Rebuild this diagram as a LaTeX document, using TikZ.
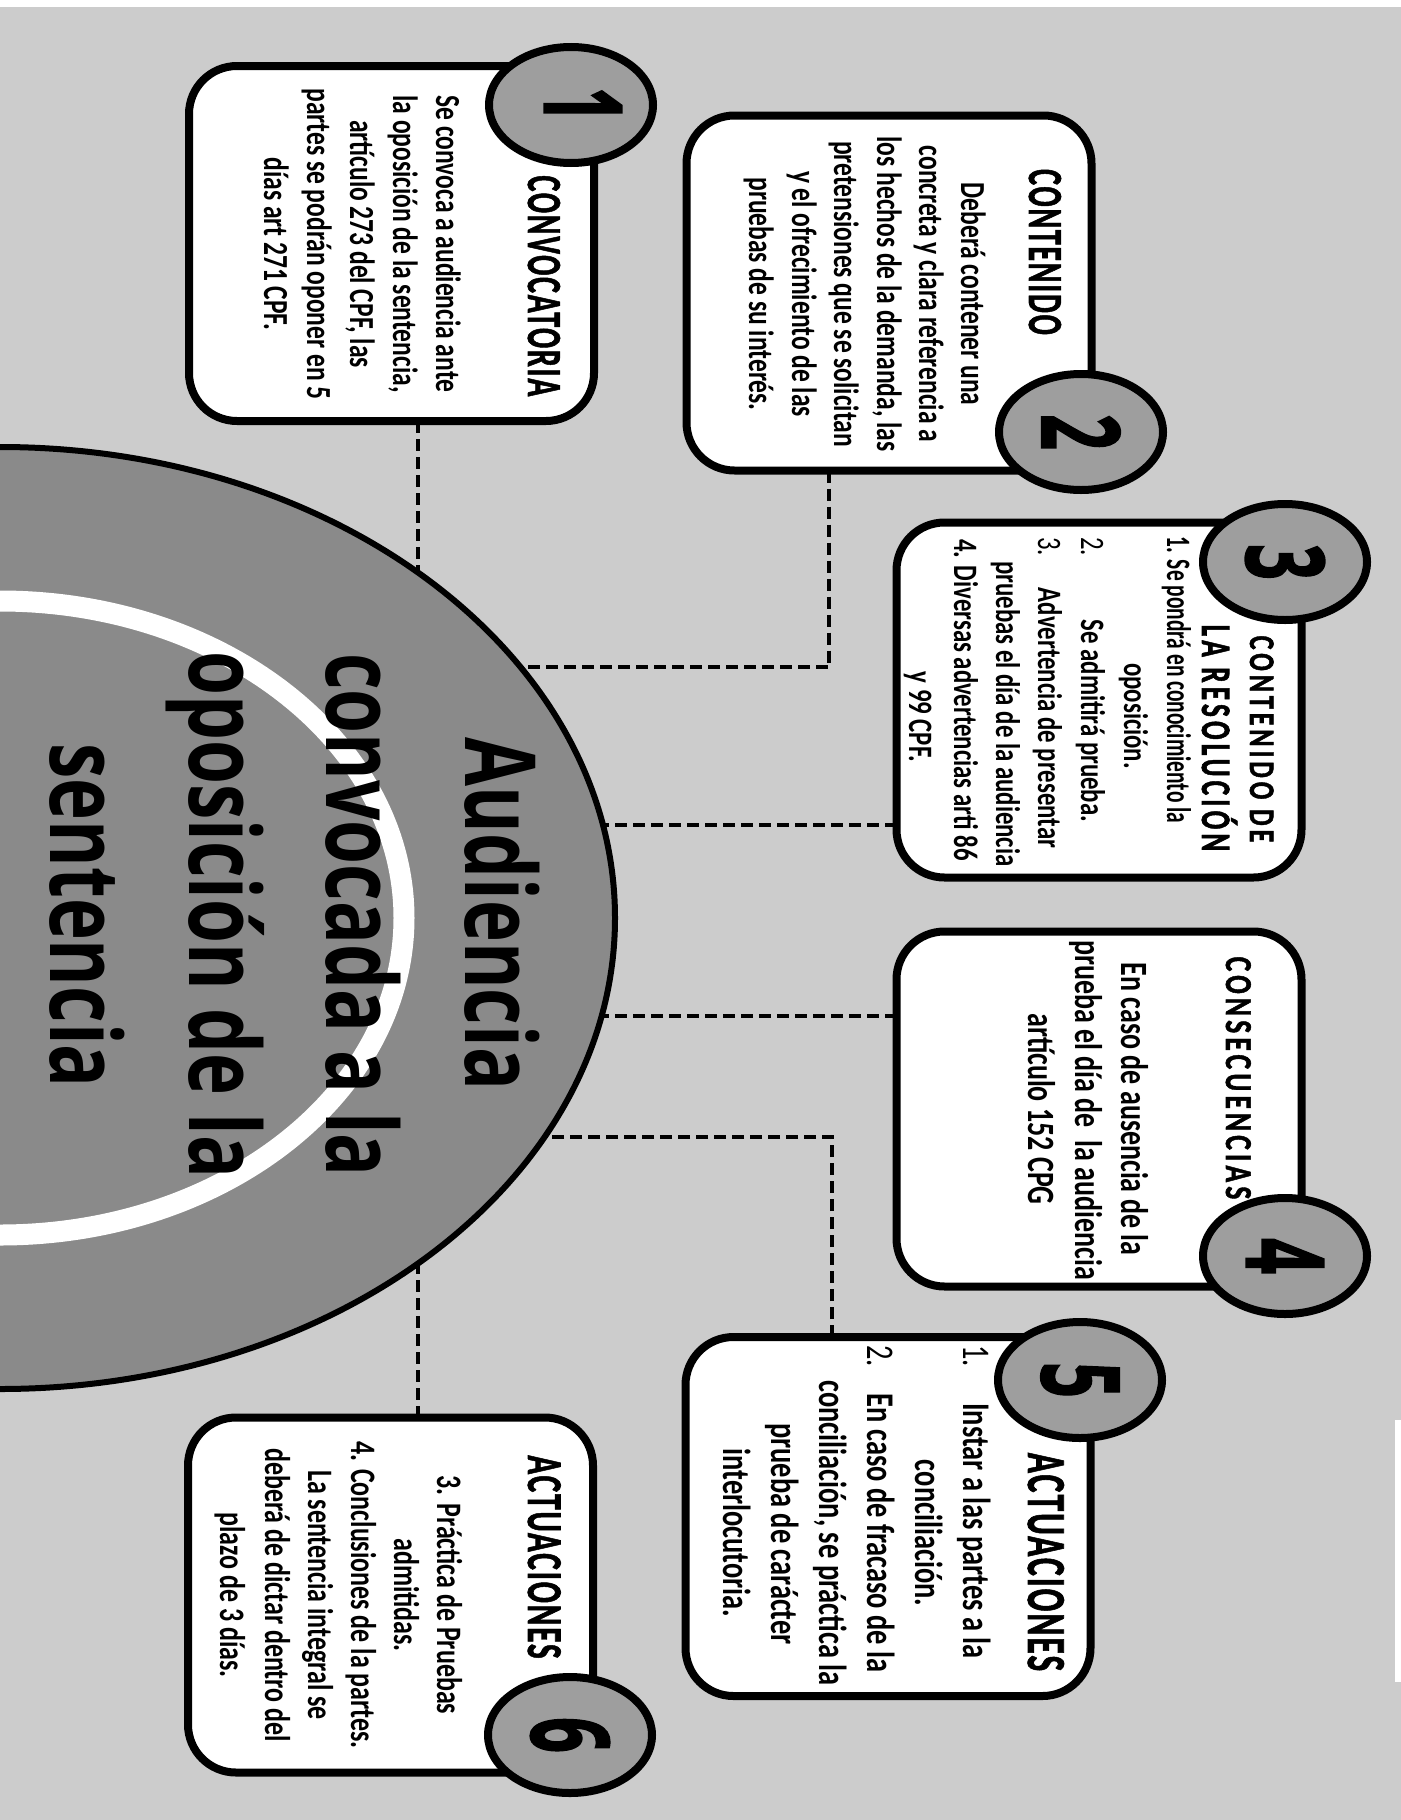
\documentclass[tikz,border=0pt]{standalone}
\usepackage{fontspec}
\usetikzlibrary{shapes.geometric}
\newfontfamily\cbf{Carlito}
\newfontfamily\ctA{Carlito Bold}[LetterSpace=6,FakeBold=1.5]
\newfontfamily\ctL{Carlito Bold}[LetterSpace=15,FakeBold=1.5]
\newfontfamily\osf{Open Sans}
\newfontfamily\dgf{Open Sans Bold}[FakeBold=2]
\definecolor{bggray}{HTML}{CCCCCC}
\definecolor{diskgray}{HTML}{8A8A8A}
\definecolor{numgray}{HTML}{9E9E9E}
\pgfdeclarelayer{backfill}
\pgfdeclarelayer{conn}
\pgfsetlayers{backfill,conn,main}
\begin{document}
\begin{tikzpicture}[x=0.5pt,y=-0.5pt,
  mybox/.style={draw=black,line width=4pt,fill=white,rounded corners=24pt,inner sep=0pt,outer sep=0pt,minimum width=202.5pt,minimum height=177.5pt},
  dashc/.style={draw=black,line width=1.75pt,dash pattern=on 6pt off 3pt},
  numc/.style={ellipse,draw=black,line width=4pt,fill=numgray,inner sep=0pt,minimum width=82pt,minimum height=58pt},
  rt/.style={rotate=-90,xscale=0.725,inner sep=0pt,anchor=base},
  rtw/.style={rt,anchor=base west},
  fa/.style={font=\cbf\bfseries\fontsize{17.6pt}{21pt}\selectfont},
  fb/.style={font=\cbf\bfseries\fontsize{17.1pt}{21pt}\selectfont},
  fbr/.style={font=\cbf\fontsize{17.1pt}{21pt}\selectfont},
  fc/.style={font=\cbf\bfseries\fontsize{19.3pt}{23pt}\selectfont},
  fd/.style={font=\cbf\bfseries\fontsize{19.6pt}{23pt}\selectfont},
  fdr/.style={font=\cbf\fontsize{19.6pt}{23pt}\selectfont},
  fe/.style={font=\cbf\bfseries\fontsize{17.9pt}{21pt}\selectfont},
  tA/.style={xscale=0.84,font=\ctA\fontsize{24.5pt}{24.5pt}\selectfont},
  tB/.style={xscale=0.84,font=\ctA\fontsize{27.5pt}{27.5pt}\selectfont},
  tE/.style={xscale=0.86,font=\ctA\fontsize{25pt}{25pt}\selectfont},
  tLa/.style={font=\ctL\fontsize{18pt}{18pt}\selectfont},
  tLb/.style={xscale=0.9,font=\ctL\fontsize{21pt}{21pt}\selectfont},
  tLc/.style={font=\ctL\fontsize{19pt}{19pt}\selectfont},
  bigt/.style={rt,font=\osf\bfseries\fontsize{49pt}{49pt}\selectfont},
  digt/.style={rt,anchor=center,xscale=0.8,font=\dgf\fontsize{54pt}{54pt}\selectfont}
]
\path[use as bounding box] (0,0) rectangle (1401,1820);
\clip (0,0) rectangle (1401,1820);
\begin{pgfonlayer}{backfill}
\fill[bggray] (0,0) rectangle (1401,1820);
\fill[white] (0,0) rectangle (1401,7);
\fill[white] (1395,1420) rectangle (1401,1682);
\end{pgfonlayer}

\coordinate (k1) at (418,640);
\coordinate (k2) at (829,667);
\coordinate (k2e) at (480,667);
\coordinate (k3) at (560,825);
\coordinate (k4) at (560,1016);
\coordinate (k5) at (832,1137);
\coordinate (k5e) at (500,1137);
\coordinate (k6) at (418,1200);

\node[mybox] (b1) at (391.5,243.5) {};
\node[mybox] (b2) at (889,293) {};
\node[mybox] (b3) at (1099,700) {};
\node[mybox] (b4) at (1099,1109) {};
\node[mybox,minimum height=179.5pt] (b5) at (888,1516.5) {};
\node[mybox] (b6) at (390.5,1595) {};

% central disk
\node[ellipse,draw=black,line width=3pt,fill=diskgray,inner sep=0pt,minimum width=615pt,minimum height=471pt] (disk) at (0,918) {};
\node[ellipse,draw=white,line width=10.5pt,inner sep=0pt,minimum width=404pt,minimum height=317pt] (ring) at (0,918) {};

% connectors (under disk and boxes)
\begin{pgfonlayer}{conn}
\draw[dashc] (b1.south -| k1) -- (k1);
\draw[dashc] (b2.south -| k2) -- (k2) -- (k2e);
\draw[dashc] (b3.west |- k3) -- (k3);
\draw[dashc] (b4.west |- k4) -- (k4);
\draw[dashc] (b5.north -| k5) -- (k5) -- (k5e);
\draw[dashc] (b6.north -| k6) -- (k6);
\end{pgfonlayer}

\node[bigt] (m1) at (465,914) {Audiencia};
\node[bigt] (m2) at (326,915) {convocada a la};
\node[bigt] (m3) at (189,915) {oposición de la};
\node[bigt] (m4) at (50,915.5) {sentencia};

% titles
\node[rt,tA] (t1) at (528,286) {CONVOCATORIA};
\node[rt,tA] (t2) at (1029,252) {CONTENIDO};
\node[rt,tLa] (t3a) at (1250,739) {CONTENIDO DE};
\node[rt,tLb] (t3b) at (1202,738) {LA RESOLUCIÓN};
\node[rt,tLc] (t4) at (1226,1078) {CONSECUENCIAS};
\node[rt,tB] (t5) at (1028,1562) {ACTUACIONES};
\node[rt,tE] (t6) at (528,1557) {ACTUACIONES};

% box 1
\node[rt,fa] (l11) at (436,244) {Se convoca a audiencia ante};
\node[rt,fa] (l12) at (393,244) {la oposición de la sentencia,};
\node[rt,fa] (l13) at (350,244) {artículo 273 del CPF, las};
\node[rt,fa] (l14) at (307,244) {partes se podrán oponer en 5};
\node[rt,fa] (l15) at (264,244) {días art 271 CPF.};

% box 2
\node[rt,fa] (l21) at (961,294) {Deberá contener una};
\node[rt,fa] (l22) at (919,294) {concreta y clara referencia a};
\node[rt,fa] (l23) at (877,294) {los hechos de la demanda, las};
\node[rt,fa] (l24) at (834,294) {pretensiones que se solicitan};
\node[rt,fa] (l25) at (792,294) {y el ofrecimiento de las};
\node[rt,fa] (l26) at (749,294) {pruebas de su interés.};

% box 3
\node[rt,fb,xscale=0.864] (l31) at (1167,680) {1. Se pondrá en conocimiento la};
\node[rt,fb] (l32) at (1124,716) {oposición.};
\node[rtw,fbr] (l33n) at (1081,537) {2.};
\node[rt,fb] (l33) at (1081,721) {Se admitirá prueba.};
\node[rtw,fbr] (l34n) at (1038,537) {3.};
\node[rt,fb] (l34) at (1038,718) {Advertencia de presentar};
\node[rt,fb] (l35) at (996,714) {pruebas el día de la audiencia};
\node[rt,fb] (l36) at (954,700) {4. Diversas advertencias arti 86};
\node[rt,fb] (l37) at (909,717) {y 99 CPF.};

% box 4
\node[rt,fc] (l41) at (1121,1109) {En caso de ausencia de la};
\node[rt,fc] (l42) at (1075,1110) {prueba el día de\ \ la audiencia};
\node[rt,fc] (l43) at (1028,1109) {artículo 152 CPG};

% box 5
\node[rtw,fdr] (l51n) at (963,1345) {1.};
\node[rt,fd] (l51) at (963,1531) {Instar a las partes a la};
\node[rt,fd] (l52) at (915,1533) {conciliación.};
\node[rtw,fdr] (l53n) at (867,1345) {2.};
\node[rt,fd] (l53) at (867,1533) {En caso de fracaso de la};
\node[rt,fd] (l54) at (819,1533) {conciliación, se práctica la};
\node[rt,fd] (l55) at (771,1534) {prueba de carácter};
\node[rt,fd] (l56) at (723,1533) {interlocutoria.};

% box 6
\node[rt,fe] (l61) at (437,1595) {3. Práctica de Pruebas};
\node[rt,fe] (l62) at (394,1595) {admitidas.};
\node[rt,fe] (l63) at (351,1595) {4. Conclusiones de la partes.};
\node[rt,fe] (l64) at (308,1595) {La sentencia integral se};
\node[rt,fe] (l65) at (265,1595) {deberá de dictar dentro del};
\node[rt,fe] (l66) at (220,1595) {plazo de 3 días.};

% number circles
\node[numc] (c1) at (571,105) {};
\node[numc] (c2) at (1081,432) {};
\node[numc] (c3) at (1285,562) {};
\node[numc] (c4) at (1285,1256) {};
\node[numc] (c5) at (1080,1380) {};
\node[numc] (c6) at (570,1735) {};
\node[digt] (n1) at ([xshift=6pt]c1.center) {1};
\node[digt] (n2) at (c2) {2};
\node[digt] (n3) at (c3) {3};
\node[digt] (n4) at (c4) {4};
\node[digt] (n5) at (c5) {5};
\node[digt] (n6) at (c6) {6};
\end{tikzpicture}
\end{document}
